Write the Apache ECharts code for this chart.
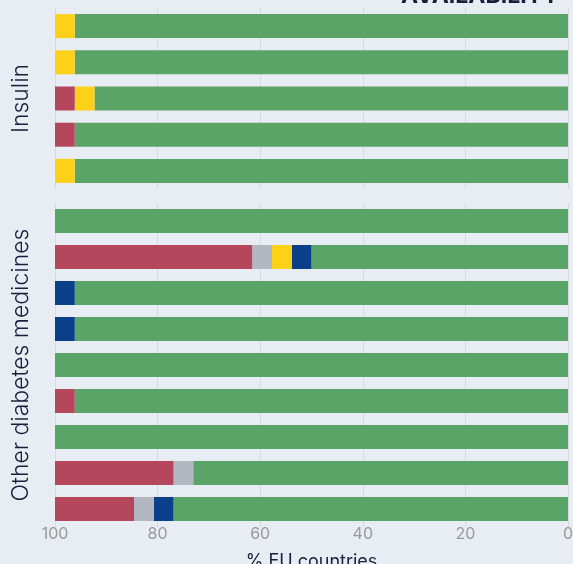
<!DOCTYPE html>
<html>
<head>
<meta charset="utf-8">
<script src="https://cdn.jsdelivr.net/npm/echarts@6/dist/echarts.min.js"></script>
<style>
html,body{margin:0;padding:0;background:#e8ecf3;}
#chart{width:573px;height:564px;}
</style>
</head>
<body>
<div id="chart"></div>
<script>
// Categories (top to bottom)
var insulinCats = ['Insulin 1', 'Insulin 2', 'Insulin 3', 'Insulin 4', 'Insulin 5'];
var otherCats = ['Other 1', 'Other 2', 'Other 3', 'Other 4', 'Other 5', 'Other 6', 'Other 7', 'Other 8', 'Other 9'];

// Insulin values (% EU countries)
var insulinGreen  = [96.15, 96.15, 92.3, 96.15, 96.15];
var insulinBlue   = [0, 0, 0, 0, 0];
var insulinYellow = [3.85, 3.85, 3.85, 0, 3.85];
var insulinGrey   = [0, 0, 0, 0, 0];
var insulinRed    = [0, 0, 3.85, 3.85, 0];

// Other diabetes medicines values (% EU countries)
var otherGreen  = [100, 50, 96.15, 96.15, 100, 96.15, 100, 73.05, 76.9];
var otherBlue   = [0, 3.85, 3.85, 3.85, 0, 0, 0, 0, 3.85];
var otherYellow = [0, 3.85, 0, 0, 0, 0, 0, 0, 0];
var otherGrey   = [0, 3.85, 0, 0, 0, 0, 0, 3.85, 3.85];
var otherRed    = [0, 38.45, 0, 0, 0, 3.85, 0, 23.1, 15.4];

var xTicks = [0, 20, 40, 60, 80, 100];

var colors = {green:'#5ba467', blue:'#0b3f8a', yellow:'#fdd118', grey:'#b2b7c2', red:'#b5475d'};
var navy = '#1c1c3c';
var fontFam = 'Inter, "Noto Sans", sans-serif';

function xAxisCfg(idx, showLabels) {
  return {
    type: 'value', gridIndex: idx, min: 0, max: 100, interval: 20, inverse: true,
    axisLine: {show: false}, axisTick: {show: false},
    axisLabel: {show: showLabels, color: '#9a9a9a', fontSize: 16, fontFamily: fontFam, margin: -1,
      formatter: function(v){ return xTicks.indexOf(v) >= 0 ? String(v) : ''; }},
    splitLine: {show: true, lineStyle: {color: '#d6dae1', width: 1}},
    name: showLabels ? '% EU countries' : '',
    nameLocation: 'middle', nameGap: 26,
    nameTextStyle: {color: navy, fontSize: 18, fontFamily: fontFam}
  };
}
function yAxisCfg(idx, cats, name) {
  return {
    type: 'category', gridIndex: idx, data: cats, inverse: true,
    axisLine: {show: false}, axisTick: {show: false}, axisLabel: {show: false},
    splitLine: {show: false},
    name: name, nameLocation: 'middle', nameRotate: 90, nameGap: 22,
    nameTextStyle: {color: navy, fontSize: 23, fontFamily: fontFam, fontWeight: 300}
  };
}
function ser(idx, key, data) {
  return {type: 'bar', xAxisIndex: idx, yAxisIndex: idx, stack: 's' + idx, data: data,
    barWidth: 24, itemStyle: {color: colors[key]}, silent: true};
}

var chart = echarts.init(document.getElementById('chart'));
chart.setOption({
  backgroundColor: '#e8ecf3',
  animation: false,
  title: {text: 'AVAILABILITY', right: 9, top: -20,
    textStyle: {color: navy, fontSize: 23, fontWeight: 'bold', fontFamily: fontFam}},
  grid: [
    {left: 55, right: 5, top: 8, height: 181, outerBoundsMode: 'none', containLabel: false},
    {left: 55, right: 5, top: 203, height: 324, outerBoundsMode: 'none', containLabel: false}
  ],
  xAxis: [xAxisCfg(0, false), xAxisCfg(1, true)],
  yAxis: [yAxisCfg(0, insulinCats, 'Insulin'), yAxisCfg(1, otherCats, 'Other diabetes medicines')],
  series: [
    ser(0, 'green', insulinGreen), ser(0, 'blue', insulinBlue), ser(0, 'yellow', insulinYellow),
    ser(0, 'grey', insulinGrey), ser(0, 'red', insulinRed),
    ser(1, 'green', otherGreen), ser(1, 'blue', otherBlue), ser(1, 'yellow', otherYellow),
    ser(1, 'grey', otherGrey), ser(1, 'red', otherRed)
  ]
});
</script>
</body>
</html>
